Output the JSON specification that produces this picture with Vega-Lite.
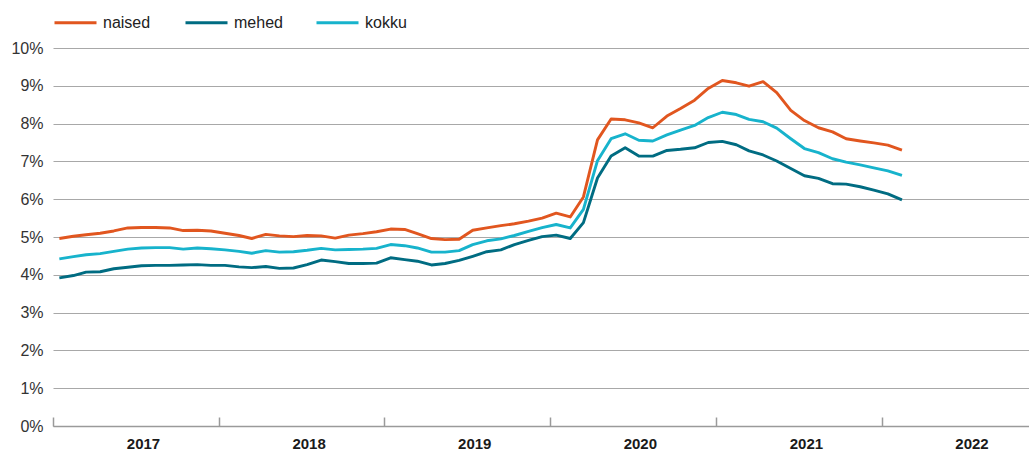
{
  "$schema": "https://vega.github.io/schema/vega-lite/v6.json",
  "width": 976,
  "height": 378,
  "autosize": {"type": "none"},
  "padding": {"left": 53, "top": 48, "right": 0, "bottom": 24},
  "background": "white",
  "config": {
    "view": {"stroke": null},
    "font": "Liberation Sans"
  },
  "data": {
    "values": [
      {"d":"2017-01-15","naised":4.96,"mehed":3.92,"kokku":4.42},
      {"d":"2017-02-15","naised":5.02,"mehed":3.98,"kokku":4.48},
      {"d":"2017-03-15","naised":5.06,"mehed":4.07,"kokku":4.53},
      {"d":"2017-04-15","naised":5.10,"mehed":4.08,"kokku":4.56},
      {"d":"2017-05-15","naised":5.16,"mehed":4.16,"kokku":4.62},
      {"d":"2017-06-15","naised":5.24,"mehed":4.20,"kokku":4.68},
      {"d":"2017-07-15","naised":5.25,"mehed":4.24,"kokku":4.71},
      {"d":"2017-08-15","naised":5.25,"mehed":4.25,"kokku":4.72},
      {"d":"2017-09-15","naised":5.24,"mehed":4.25,"kokku":4.72},
      {"d":"2017-10-15","naised":5.17,"mehed":4.26,"kokku":4.68},
      {"d":"2017-11-15","naised":5.18,"mehed":4.27,"kokku":4.71},
      {"d":"2017-12-15","naised":5.16,"mehed":4.25,"kokku":4.69},
      {"d":"2018-01-15","naised":5.10,"mehed":4.25,"kokku":4.66},
      {"d":"2018-02-15","naised":5.04,"mehed":4.21,"kokku":4.62},
      {"d":"2018-03-15","naised":4.96,"mehed":4.19,"kokku":4.57},
      {"d":"2018-04-15","naised":5.07,"mehed":4.22,"kokku":4.64},
      {"d":"2018-05-15","naised":5.03,"mehed":4.17,"kokku":4.60},
      {"d":"2018-06-15","naised":5.01,"mehed":4.18,"kokku":4.61},
      {"d":"2018-07-15","naised":5.04,"mehed":4.27,"kokku":4.65},
      {"d":"2018-08-15","naised":5.03,"mehed":4.39,"kokku":4.70},
      {"d":"2018-09-15","naised":4.97,"mehed":4.35,"kokku":4.66},
      {"d":"2018-10-15","naised":5.05,"mehed":4.30,"kokku":4.67},
      {"d":"2018-11-15","naised":5.09,"mehed":4.30,"kokku":4.68},
      {"d":"2018-12-15","naised":5.14,"mehed":4.31,"kokku":4.70},
      {"d":"2019-01-15","naised":5.21,"mehed":4.45,"kokku":4.80},
      {"d":"2019-02-15","naised":5.20,"mehed":4.40,"kokku":4.77},
      {"d":"2019-03-15","naised":5.09,"mehed":4.36,"kokku":4.71},
      {"d":"2019-04-15","naised":4.96,"mehed":4.26,"kokku":4.60},
      {"d":"2019-05-15","naised":4.93,"mehed":4.30,"kokku":4.60},
      {"d":"2019-06-15","naised":4.94,"mehed":4.38,"kokku":4.64},
      {"d":"2019-07-15","naised":5.18,"mehed":4.49,"kokku":4.80},
      {"d":"2019-08-15","naised":5.24,"mehed":4.61,"kokku":4.90},
      {"d":"2019-09-15","naised":5.30,"mehed":4.66,"kokku":4.95},
      {"d":"2019-10-15","naised":5.35,"mehed":4.80,"kokku":5.04},
      {"d":"2019-11-15","naised":5.42,"mehed":4.91,"kokku":5.15},
      {"d":"2019-12-15","naised":5.50,"mehed":5.01,"kokku":5.25},
      {"d":"2020-01-15","naised":5.63,"mehed":5.05,"kokku":5.33},
      {"d":"2020-02-15","naised":5.53,"mehed":4.96,"kokku":5.24},
      {"d":"2020-03-15","naised":6.06,"mehed":5.38,"kokku":5.73},
      {"d":"2020-04-15","naised":7.57,"mehed":6.56,"kokku":7.02},
      {"d":"2020-05-15","naised":8.12,"mehed":7.14,"kokku":7.60},
      {"d":"2020-06-15","naised":8.10,"mehed":7.36,"kokku":7.73},
      {"d":"2020-07-15","naised":8.02,"mehed":7.14,"kokku":7.56},
      {"d":"2020-08-15","naised":7.89,"mehed":7.14,"kokku":7.54},
      {"d":"2020-09-15","naised":8.20,"mehed":7.29,"kokku":7.70},
      {"d":"2020-10-15","naised":8.40,"mehed":7.32,"kokku":7.83},
      {"d":"2020-11-15","naised":8.62,"mehed":7.36,"kokku":7.95},
      {"d":"2020-12-15","naised":8.93,"mehed":7.50,"kokku":8.16},
      {"d":"2021-01-15","naised":9.14,"mehed":7.53,"kokku":8.30},
      {"d":"2021-02-15","naised":9.08,"mehed":7.44,"kokku":8.24},
      {"d":"2021-03-15","naised":8.99,"mehed":7.28,"kokku":8.11},
      {"d":"2021-04-15","naised":9.11,"mehed":7.17,"kokku":8.05},
      {"d":"2021-05-15","naised":8.82,"mehed":7.01,"kokku":7.88},
      {"d":"2021-06-15","naised":8.35,"mehed":6.81,"kokku":7.60},
      {"d":"2021-07-15","naised":8.08,"mehed":6.62,"kokku":7.34},
      {"d":"2021-08-15","naised":7.89,"mehed":6.55,"kokku":7.23},
      {"d":"2021-09-15","naised":7.78,"mehed":6.41,"kokku":7.07},
      {"d":"2021-10-15","naised":7.60,"mehed":6.40,"kokku":6.98},
      {"d":"2021-11-15","naised":7.54,"mehed":6.33,"kokku":6.91},
      {"d":"2021-12-15","naised":7.49,"mehed":6.24,"kokku":6.83},
      {"d":"2022-01-15","naised":7.43,"mehed":6.14,"kokku":6.75},
      {"d":"2022-02-15","naised":7.30,"mehed":5.98,"kokku":6.63}
    ]
  },
  "transform": [
    {"fold": ["naised", "mehed", "kokku"], "as": ["g", "v"]}
  ],
  "mark": {"type": "line", "strokeWidth": 2.9, "strokeJoin": "round", "strokeCap": "butt"},
  "encoding": {
    "x": {
      "field": "d",
      "type": "temporal",
      "scale": {"domain": [{"year": 2017, "month": 1, "date": 1}, {"year": 2022, "month": 11, "date": 22}]},
      "axis": {
        "title": null,
        "format": "%Y",
        "tickCount": {"interval": "year", "step": 1},
        "grid": false,
        "domainColor": "#9a9a9a",
        "domainWidth": 1.5,
        "tickColor": "#9a9a9a",
        "tickWidth": 1.5,
        "tickSize": -9,
        "labelOffset": 90,
        "labelFlush": false,
        "labelOverlap": false,
        "labelPadding": 19,
        "labelBaseline": "top",
        "labelFontSize": 15,
        "labelFontWeight": "bold",
        "labelColor": "#1a1a1a",
        "labelFont": "Liberation Sans"
      }
    },
    "y": {
      "field": "v",
      "type": "quantitative",
      "scale": {"domain": [0, 10], "nice": false},
      "axis": {
        "title": null,
        "values": [0, 1, 2, 3, 4, 5, 6, 7, 8, 9, 10],
        "labelExpr": "datum.value + '%'",
        "domain": false,
        "ticks": false,
        "grid": true,
        "gridColor": "#a8a8a8",
        "gridWidth": 1.2,
        "labelPadding": 10,
        "labelFontSize": 16,
        "labelColor": "#333333",
        "labelFont": "Liberation Sans"
      }
    },
    "color": {
      "field": "g",
      "type": "nominal",
      "scale": {"domain": ["naised", "mehed", "kokku"], "range": ["#E1561F", "#006C82", "#17B3CC"]},
      "legend": {
        "title": null,
        "orient": "top",
        "direction": "horizontal",
        "offset": 17,
        "symbolType": "stroke",
        "symbolSize": 1764,
        "symbolStrokeWidth": 3,
        "labelFontSize": 16,
        "labelColor": "#222222",
        "labelFont": "Liberation Sans",
        "labelOffset": 5,
        "gridAlign": "all",
        "columnPadding": 27
      }
    }
  }
}
